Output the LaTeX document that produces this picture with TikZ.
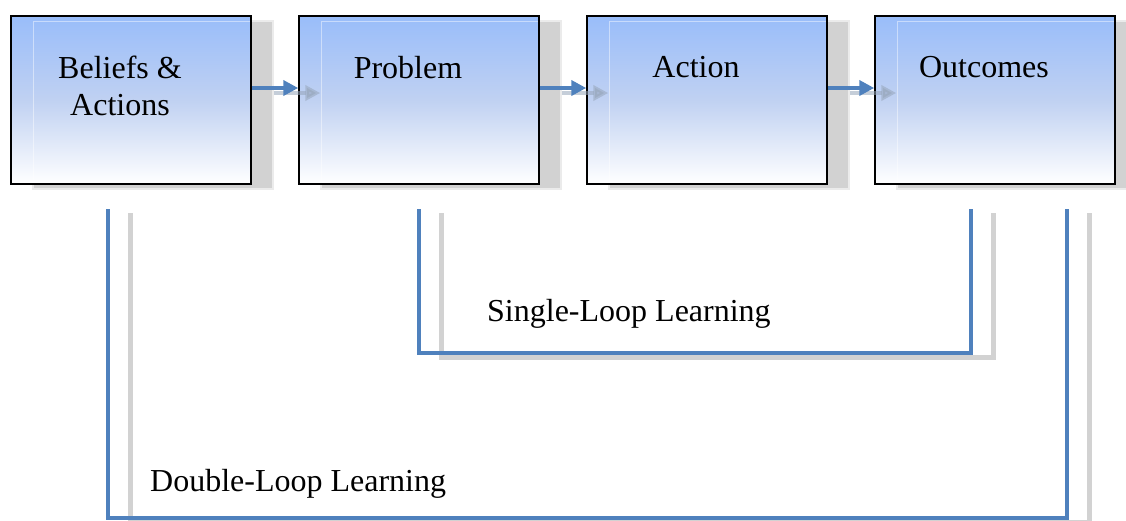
\documentclass[tikz,border=0pt]{standalone}
\usepackage{fontspec}
\setmainfont{Liberation Serif}
\usetikzlibrary{arrows.meta,shadows}
\definecolor{stageblue}{RGB}{153,189,250}
\definecolor{stagemid}{RGB}{192,209,242}
\definecolor{loopblue}{RGB}{79,129,189}
\definecolor{shadowgray}{RGB}{210,210,210}
\definecolor{arrowgray}{RGB}{150,165,185}
\tikzset{
    stage-box/.style = {draw=black, line width=1.5pt, rectangle, minimum width=240pt, minimum height=168pt, inner sep=0pt,
        top color=stageblue, bottom color=white, middle color=stagemid,
        general shadow={fill=shadowgray, draw=black!8, line width=1.5pt, shadow xshift=22pt, shadow yshift=-5pt},
        path picture={\draw[white, opacity=.45, line width=1pt] ([shift={(22pt,-5pt)}]path picture bounding box.north west) rectangle ([shift={(22pt,-5pt)}]path picture bounding box.south east);}},
    stage-text/.style = {anchor=north, inner sep=0pt, align=center, font=\fontsize{32}{37}\selectfont},
    flow-arrow/.style = {draw=loopblue, line width=4.5pt, -{Triangle[length=15pt, width=15pt]}},
    flow-shadow/.style = {draw=arrowgray, opacity=.55, line width=4.5pt, -{Triangle[length=15pt, width=15pt]}, transform canvas={shift={(22pt,-5pt)}}},
    loop-line/.style = {draw=loopblue, line width=4.5pt},
    loop-shadow/.style = {draw=shadowgray, line width=5pt, transform canvas={shift={(22pt,-4pt)}}},
    loop-label/.style = {anchor=base west, inner sep=0pt, font=\fontsize{32}{37}\selectfont},
}
\begin{document}
\begin{tikzpicture}[x=1pt, y=1pt]
\useasboundingbox (0,0) rectangle (1126,-520);

% the four stages
\node[stage-box] (beliefs) at (131,-100) {};
\node[stage-box] (problem) at (419,-100) {};
\node[stage-box] (action) at (707,-100) {};
\node[stage-box] (outcomes) at (995,-100) {};

\node[stage-text] (beliefs-text) at ([xshift=-11pt,yshift=-41pt]beliefs.north) {Beliefs \&\\Actions};
\node[stage-text] (problem-text) at ([xshift=-11pt,yshift=-41pt]problem.north) {Problem};
\node[stage-text] (action-text) at ([xshift=-11pt,yshift=-41pt]action.north) {Action};
\node[stage-text] (outcomes-text) at ([xshift=-11pt,yshift=-41pt]outcomes.north) {Outcomes};

% arrows between stages
\draw[flow-shadow] ([yshift=12pt]beliefs.east) -- ([yshift=12pt]problem.west);
\draw[flow-shadow] ([yshift=12pt]problem.east) -- ([yshift=12pt]action.west);
\draw[flow-shadow] ([yshift=12pt]action.east) -- ([yshift=12pt]outcomes.west);
\draw[flow-arrow] ([yshift=12pt]beliefs.east) -- ([yshift=12pt]problem.west);
\draw[flow-arrow] ([yshift=12pt]problem.east) -- ([yshift=12pt]action.west);
\draw[flow-arrow] ([yshift=12pt]action.east) -- ([yshift=12pt]outcomes.west);

% loop ends
\coordinate (single-start) at (419,-209);
\coordinate (single-end) at (971,-209);
\coordinate (double-start) at (108,-209);
\coordinate (double-end) at (1067,-209);

% single loop
\draw[loop-shadow] (single-start) -- ++(0,-144) -| (single-end);
\draw[loop-line] (single-start) -- ++(0,-144) -| (single-end);
\node[loop-label] (single-label) at (487,-321) {Single-Loop Learning};

% double loop
\draw[loop-shadow] (double-start) -- ++(0,-309) -| (double-end);
\draw[loop-line] (double-start) -- ++(0,-309) -| (double-end);
\node[loop-label] (double-label) at (150,-491) {Double-Loop Learning};
\end{tikzpicture}
\end{document}
